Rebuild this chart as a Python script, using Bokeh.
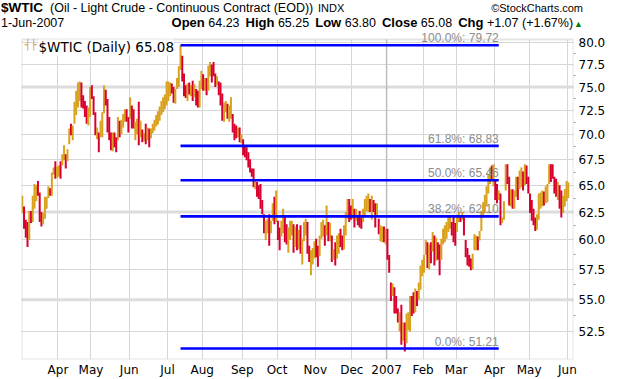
import numpy as np
import pandas as pd
from bokeh.plotting import figure
from bokeh.layouts import column
from bokeh.models import (ColumnDataSource, Range1d, FixedTicker, Label, Span,
                          PrintfTickFormatter, BoxAnnotation, Div)
from bokeh.embed import file_html
from bokeh.resources import INLINE
from bokeh.core.properties import value

# ---------------- data ----------------
symbol = "$WTIC"
title_desc = "(Oil - Light Crude - Continuous Contract (EOD))"
exchange = "INDX"
credit = "©StockCharts.com"
last_date_label = "1-Jun-2007"
quote_labels = ["Open", "High", "Low", "Close", "Chg"]
quote_values = ["64.23", "65.25", "63.80", "65.08", "+1.07"]
chg_pct = "(+1.67%)"
legend_text = "$WTIC (Daily) 65.08"

first_day = "2006-03-03"
last_day = "2007-06-01"
holidays = ["2006-04-14", "2006-05-29", "2006-07-04", "2006-09-04", "2006-11-23",
            "2006-12-25", "2007-01-01", "2007-01-15", "2007-02-19", "2007-04-06",
            "2007-05-28"]

highs = [
    64.0, 63.0, 61.8, 61.6, 62.6, 62.6, 64.0, 65.1, 65.0, 65.4, 64.3, 62.5, 62.4, 63.9, 63.9, 64.9, 64.7, 66.2, 66.7, 67.3, 66.8,
    66.9, 67.3, 68.0, 68.9, 68.0, 68.5, 70.6, 71.1, 70.9, 73.4, 74.6, 75.5, 75.6, 75.5, 74.1, 73.5, 73.0, 72.8, 75.0,
    75.2, 74.0, 72.3, 70.7, 70.2, 71.4, 72.3, 75.2, 74.7, 73.7, 71.8, 70.2, 70.2, 70.2, 69.7, 71.8, 71.4, 71.5, 72.1, 72.6, 72.6, 71.8,
    73.9, 73.0, 72.6, 71.3, 71.6, 73.4, 71.4, 70.5, 70.1, 71.1, 70.7, 70.6, 70.6, 71.1, 71.5, 72.0, 72.4, 72.9, 73.5, 73.9, 74.2, 75.6,
    75.6, 75.5, 75.4, 75.0, 74.8, 76.0, 77.3, 79.72, 78.5, 76.5, 75.2, 75.4, 75.5, 75.2, 75.7, 75.3, 74.8, 74.6, 75.7, 76.8,
    76.4, 76.0, 76.0, 77.4, 77.8, 77.5, 77.8, 76.5, 76.2, 75.6, 75.5, 74.3, 73.3, 73.5, 73.2, 73.0, 73.9, 72.1, 71.1, 70.9, 70.7, 70.7, 70.0,
    69.5, 68.9, 68.7, 68.2, 67.5, 66.6, 66.6, 65.4, 65.3, 65.0, 65.1, 63.6, 62.3, 61.7, 61.9, 62.3, 61.7, 63.3, 63.9, 64.5,
    61.7, 61.1, 61.7, 62.8, 62.2, 61.4, 61.1, 61.7, 61.7, 61.4, 61.2, 61.4, 60.9, 61.3, 60.1, 61.6, 61.9, 61.6, 59.5, 59.1, 59.3, 59.9,
    60.1, 59.5, 60.4, 61.6, 61.8, 61.3, 63.1, 61.6, 61.5, 60.4, 59.2, 59.8, 60.4, 60.6, 61.0, 60.4, 61.3, 62.5, 63.7, 63.7, 63.1,
    63.7, 62.8, 62.8, 62.2, 62.6, 62.0, 62.8, 63.7, 64.0, 64.2, 63.7, 64.0, 63.6, 63.3, 63.3, 61.9, 61.3, 61.2, 61.2, 61.0,
    61.0, 58.7, 56.4, 56.3, 56.0, 55.3, 54.3, 54.0, 54.6, 53.2, 53.2, 53.9, 54.0, 55.3, 55.3, 55.6, 55.9, 55.7, 56.4, 57.8, 58.3,
    58.7, 60.0, 59.8, 59.6, 59.8, 60.7, 60.4, 60.2, 59.8, 59.6, 60.1, 61.0, 61.3, 61.6, 62.2, 62.1, 61.6, 62.2, 61.5,
    62.2, 62.5, 62.2, 62.5, 62.0, 60.0, 59.3, 58.7, 58.4, 58.8, 60.5, 60.4, 60.3, 60.8, 62.6, 63.4, 64.1, 64.9, 66.1, 66.7, 66.9, 67.0,
    65.5, 65.1, 64.5, 64.2, 62.0, 63.5, 67.0, 67.0, 65.8, 64.6, 64.6, 64.5, 65.8, 65.8, 66.4, 66.7, 66.3, 67.0, 66.9, 65.8,
    64.2, 63.6, 62.8, 62.0, 62.3, 64.2, 64.3, 64.5, 64.4, 64.9, 65.1, 67.0, 67.0, 67.0, 65.8, 65.6, 65.3, 65.0, 64.5, 64.0, 64.6, 65.4,
    65.25,
]
lows = [
    62.4, 61.0, 60.2, 59.4, 60.0, 61.5, 61.6, 62.8, 63.5, 64.0, 61.6, 61.2, 61.4, 61.9, 62.8, 63.8, 64.0, 64.0, 66.0, 65.6, 65.7,
    65.8, 65.6, 66.9, 67.4, 66.6, 67.3, 69.0, 69.9, 69.4, 71.1, 72.0, 72.8, 73.5, 72.8, 72.7, 71.8, 71.1, 70.9, 71.8,
    73.7, 72.0, 69.9, 69.5, 68.2, 69.7, 69.7, 72.2, 73.0, 70.2, 69.4, 68.4, 68.3, 68.7, 68.2, 69.4, 69.7, 70.0, 70.7, 71.3, 71.3, 70.2,
    71.6, 70.6, 70.6, 69.4, 70.0, 68.9, 69.7, 69.2, 69.3, 69.0, 69.4, 68.7, 69.6, 70.1, 70.4, 70.8, 71.0, 71.4, 72.0, 72.3, 72.6, 73.0,
    73.5, 74.0, 74.3, 73.3, 73.2, 74.8, 75.0, 76.9, 75.6, 74.0, 73.8, 73.5, 74.2, 74.0, 73.5, 73.9, 73.0, 72.8, 72.8, 74.8,
    74.6, 74.6, 74.1, 74.6, 76.2, 75.5, 76.2, 75.0, 75.2, 74.1, 73.0, 71.4, 71.3, 72.3, 71.6, 71.3, 71.6, 70.2, 69.4, 69.6, 69.7, 69.2, 69.1,
    67.9, 67.7, 67.4, 66.7, 66.2, 65.8, 64.8, 64.6, 63.9, 63.7, 62.8, 62.3, 60.6, 60.0, 60.6, 59.5, 60.6, 61.7, 61.4, 61.6,
    60.0, 59.1, 60.3, 60.6, 59.8, 59.6, 58.9, 60.0, 60.4, 58.9, 59.4, 59.1, 59.2, 58.8, 57.9, 59.9, 60.4, 58.8, 58.1, 57.0, 57.9, 58.4,
    58.5, 57.7, 58.6, 60.1, 60.3, 59.5, 60.4, 59.9, 59.9, 58.1, 58.3, 57.8, 58.4, 58.8, 59.4, 59.1, 59.2, 60.4, 61.9, 61.6, 61.8,
    61.9, 61.1, 61.7, 61.3, 61.1, 61.0, 61.6, 62.2, 62.6, 62.5, 62.5, 61.8, 62.5, 61.1, 62.2, 60.5, 59.9, 59.8, 59.8, 59.6,
    58.3, 57.2, 54.9, 55.3, 53.9, 53.9, 53.2, 52.5, 51.5, 51.8, 51.0, 51.6, 52.6, 52.5, 53.7, 53.9, 54.0, 54.5, 55.0, 55.8, 56.9,
    57.2, 58.7, 57.6, 57.5, 58.0, 59.0, 57.8, 58.2, 58.3, 57.0, 58.3, 59.6, 59.8, 60.1, 60.7, 61.0, 60.4, 59.8, 59.5,
    60.7, 61.6, 61.6, 61.8, 60.4, 58.5, 57.8, 57.7, 57.4, 57.5, 59.1, 59.1, 59.1, 59.95, 60.8, 62.0, 62.4, 63.0, 64.2, 65.1, 65.4, 64.9,
    63.6, 63.3, 63.6, 61.3, 61.5, 61.8, 64.5, 65.1, 63.1, 63.0, 62.8, 62.8, 63.9, 63.6, 64.6, 64.8, 64.5, 65.0, 65.1, 64.2,
    62.4, 61.7, 61.3, 60.8, 60.9, 61.8, 62.8, 63.0, 63.1, 63.3, 63.4, 65.1, 65.3, 65.6, 64.2, 63.9, 63.6, 62.8, 62.0, 62.4, 63.0, 63.5,
    63.80,
]
closes = [
    62.7, 61.3, 60.5, 60.0, 62.3, 61.8, 63.8, 64.6, 64.8, 64.2, 61.9, 61.5, 62.1, 63.6, 63.7, 64.6, 64.2, 66.0, 66.5, 65.8, 66.6,
    66.7, 65.9, 67.7, 68.7, 67.0, 68.3, 70.4, 70.0, 70.8, 73.1, 74.3, 75.2, 75.4, 73.1, 72.9, 72.0, 71.3, 72.5, 74.6,
    74.0, 72.3, 70.2, 70.5, 68.6, 71.1, 72.0, 74.9, 73.3, 70.5, 69.7, 68.7, 70.0, 69.2, 68.6, 71.5, 70.0, 71.2, 71.9, 72.4, 72.3, 70.5,
    73.5, 70.9, 70.8, 71.1, 71.4, 69.6, 71.1, 69.8, 70.0, 69.3, 70.5, 69.0, 70.4, 70.9, 71.3, 71.8, 72.2, 72.7, 73.3, 73.7, 74.0, 75.2,
    75.3, 75.4, 74.6, 73.6, 74.5, 75.8, 77.0, 79.2, 76.0, 74.3, 74.1, 75.0, 74.5, 74.9, 73.9, 75.1, 73.4, 73.0, 75.3, 76.5,
    75.0, 75.6, 74.4, 77.1, 77.4, 77.0, 76.5, 75.3, 75.9, 74.4, 73.3, 71.8, 72.9, 73.3, 72.0, 72.8, 73.6, 70.5, 69.8, 69.7, 70.4, 69.5, 69.8,
    68.2, 67.9, 67.6, 67.0, 66.4, 66.0, 65.0, 65.2, 64.1, 64.0, 63.1, 62.5, 60.9, 61.4, 61.7, 60.0, 61.5, 63.0, 61.8, 62.0,
    60.3, 59.4, 61.4, 62.3, 60.1, 59.8, 60.6, 61.2, 61.4, 59.3, 60.8, 59.4, 60.6, 59.1, 59.8, 61.2, 61.7, 59.2, 58.4, 58.8, 59.0, 59.6,
    58.8, 58.0, 60.1, 61.3, 61.5, 59.8, 61.8, 60.2, 61.2, 58.4, 58.9, 58.1, 59.9, 60.2, 59.6, 59.3, 61.0, 62.2, 63.4, 62.0, 61.9,
    63.5, 61.4, 62.1, 61.6, 61.4, 61.2, 62.6, 63.4, 63.8, 64.0, 62.8, 63.6, 63.2, 61.5, 62.4, 60.8, 61.0, 61.1, 60.2, 60.7,
    58.6, 57.5, 55.2, 56.0, 54.2, 54.1, 53.4, 53.8, 52.0, 52.9, 51.2, 53.6, 53.7, 55.0, 54.6, 54.2, 55.7, 54.8, 56.2, 57.6, 58.1,
    58.4, 59.8, 58.0, 59.2, 58.3, 60.4, 58.2, 59.7, 58.6, 57.5, 59.8, 60.7, 61.1, 61.4, 61.9, 62.0, 61.0, 60.2, 59.8,
    61.9, 62.3, 61.8, 62.2, 60.7, 58.8, 58.1, 57.9, 57.6, 58.6, 60.2, 60.3, 59.4, 60.6, 62.3, 63.2, 63.8, 64.6, 65.9, 66.4, 65.6, 65.9,
    64.0, 63.7, 64.2, 61.6, 61.9, 63.3, 66.7, 65.4, 63.4, 64.3, 63.1, 64.2, 65.5, 64.0, 66.1, 66.4, 64.9, 66.7, 66.5, 64.5,
    62.8, 62.0, 61.6, 61.2, 61.6, 63.9, 64.1, 64.3, 63.5, 64.7, 64.9, 66.7, 66.2, 66.0, 64.5, 64.2, 65.0, 63.2, 62.9, 63.15, 63.49, 64.01,
    65.08,
]

fib_high = 79.72
fib_low = 51.21
fib_ratios = [1.0, 0.618, 0.5, 0.382, 0.0]
fib_end_day = "2007-04-04"

y_ticks = [52.5, 55.0, 57.5, 60.0, 62.5, 65.0, 67.5, 70.0, 72.5, 75.0, 77.5, 80.0]
y_heavy_grid = [55.0, 62.5, 75.0]

# ---------------- derived ----------------
dates = pd.bdate_range(first_day, last_day)
dates = dates[~dates.isin(pd.to_datetime(holidays))]
n = min(len(dates), len(closes), len(highs), len(lows))
dates = dates[:n]
xs = list(range(n))

UP = "#D9A21E"
DOWN = "#D8002E"
colors = [UP if (i == 0 or closes[i] >= closes[i - 1]) else DOWN for i in range(n)]
src = ColumnDataSource(dict(x=xs, high=highs[:n], low=lows[:n], color=colors))

month_first = [i for i in range(1, n) if dates[i].month != dates[i - 1].month]
tick_pos = [i - 0.5 for i in month_first]
tick_lab = ["2007" if dates[i].month == 1 else dates[i].strftime("%b") for i in month_first]

# ---------------- geometry ----------------
HEADER_H = 30
FRAME_W, FRAME_H = 552, 329
B_LEFT, B_RIGHT, B_TOP, B_BOTTOM = 21, 47, 0, 20
PLOT_TOP = 80.39          # visible top edge of the chart box
Y_MIN, Y_MAX = 50.40, 81.45

p = figure(frame_width=FRAME_W, frame_height=FRAME_H,
           min_border_left=B_LEFT, min_border_right=B_RIGHT,
           min_border_top=B_TOP, min_border_bottom=B_BOTTOM,
           x_range=Range1d(-0.46, 317.0), y_range=Range1d(Y_MIN, Y_MAX),
           y_axis_type="log", y_axis_location="right",
           output_backend="svg", toolbar_location=None, title=None)
p.background_fill_color = "white"
p.border_fill_color = "white"
p.outline_line_color = None

# x axis
p.xaxis.ticker = FixedTicker(ticks=tick_pos)
p.xaxis.major_label_overrides = {t: lab for t, lab in zip(tick_pos, tick_lab)}
p.xaxis.major_tick_line_color = None
p.xaxis.major_tick_out = 0
p.xaxis.major_tick_in = 0
p.xaxis.minor_tick_line_color = None
p.xaxis.minor_tick_out = 0
p.xaxis.axis_line_color = None
p.xaxis.major_label_standoff = 3
p.xaxis.major_label_text_font = "DejaVu Sans"
p.xaxis.major_label_text_font_size = "12px"
p.xaxis.major_label_text_color = "black"
p.xgrid.grid_line_color = "#d6d6d6"
p.xgrid.grid_line_width = 1

# y axis
y_minor = [(a + b) / 2 for a, b in zip(y_ticks[:-1], y_ticks[1:])]
p.yaxis.ticker = FixedTicker(ticks=y_ticks, minor_ticks=y_minor)
p.yaxis.formatter = PrintfTickFormatter(format="%.1f")
p.yaxis.axis_line_color = None
p.yaxis.major_tick_line_color = None
p.yaxis.major_tick_out = 0
p.yaxis.major_tick_in = 0
p.yaxis.minor_tick_line_color = "#9a9a9a"
p.yaxis.minor_tick_out = 2
p.yaxis.minor_tick_in = 0
p.yaxis.major_label_standoff = 3
p.yaxis.major_label_text_font = "DejaVu Sans"
p.yaxis.major_label_text_font_size = "12px"
p.yaxis.major_label_text_color = "black"
p.ygrid.ticker = FixedTicker(ticks=y_ticks)
p.ygrid.grid_line_color = "#d6d6d6"
p.ygrid.grid_line_width = 1

for v in y_heavy_grid:
    p.add_layout(Span(location=v, dimension="width", line_color="#dcdcdc",
                      line_width=3, level="underlay"))
for t, lab in zip(tick_pos, tick_lab):
    if lab == "2007":
        p.add_layout(Span(location=t, dimension="height", line_color="#bcbcbc",
                          line_width=1.5, level="underlay"))

# white strip above the chart box (room for the 100% label), then the box border
p.add_layout(BoxAnnotation(bottom=PLOT_TOP, fill_color="white", fill_alpha=1.0,
                           line_color=None, level="underlay"))
p.add_layout(BoxAnnotation(top=PLOT_TOP, fill_alpha=0.0, line_color="#a6a6a6",
                           line_width=2, level="annotation"))

# price bars
p.segment(x0="x", y0="low", x1="x", y1="high", line_color="color",
          line_width=2, source=src)

# fibonacci retracement
hi_idx = int(np.argmax(highs[:n]))
end_idx = int(dates.get_loc(pd.Timestamp(fib_end_day)))
lo_c, hi_c = round(fib_low * 100), round(fib_high * 100)
levels_c = [round(lo_c + r * (hi_c - lo_c)) for r in fib_ratios]
levels = [c / 100 for c in levels_c]
fib_src = ColumnDataSource(dict(
    x0=[hi_idx] * len(levels), x1=[end_idx] * len(levels), y=levels,
    label=[f"{r * 100:.1f}%: {lv:.2f}" for r, lv in zip(fib_ratios, levels)]))
p.segment(x0="x0", y0="y", x1="x1", y1="y", line_color="#0000ff",
          line_width=2.6, source=fib_src)
p.text(x="x1", y="y", text="label", source=fib_src, text_align="right",
       text_baseline="bottom", text_font=value("Liberation Sans"),
       text_font_size="12px", text_color="#8c8c8c")

# in-chart legend
p.add_layout(Label(x=17, y=PLOT_TOP, x_units="screen", y_units="data", text=legend_text,
                   text_font="DejaVu Sans", text_font_size="13.5px", text_color="black",
                   text_baseline="top", background_fill_color="white"))
p.add_layout(Label(x=3, y=PLOT_TOP, x_units="screen", y_units="data", text="┤├",
                   text_font="DejaVu Sans", text_font_size="10px", text_font_style="bold",
                   text_color=UP, text_baseline="top"))

# ---------------- header ----------------
groups = "".join(
    f'<span style="margin-left:{0 if i == 0 else 6}px;"><b style="font-size:13px;">{lab}</b>'
    f'&nbsp;{val}</span>'
    for i, (lab, val) in enumerate(zip(quote_labels, quote_values)))
quote_html = (groups + f'&nbsp;{chg_pct}'
              '<span style="color:#008000;font-size:9px;margin-left:1px;">▲</span>')
header_html = f'''
<div style="position:relative;width:620px;height:{HEADER_H}px;color:#000;
 font-family:'Liberation Sans',Arial,sans-serif;white-space:nowrap;">
 <span style="position:absolute;left:1px;top:1.05px;font-size:13.5px;line-height:13.5px;font-weight:bold;">{symbol}</span>
 <span style="position:absolute;left:50px;top:1.75px;font-size:12.5px;line-height:12.5px;">{title_desc}</span>
 <span style="position:absolute;left:318px;top:3px;font-size:11px;line-height:11px;">{exchange}</span>
 <span style="position:absolute;right:37px;top:3px;font-size:11px;line-height:11px;">{credit}</span>
 <span style="position:absolute;left:1px;top:16.75px;font-size:12.5px;line-height:12.5px;">{last_date_label}</span>
 <span style="position:absolute;right:37px;top:16px;font-size:12.5px;line-height:14px;">{quote_html}</span>
</div>'''
header = Div(text=header_html, width=620, height=HEADER_H, margin=(0, 0, 0, 0))

layout = column(header, p, spacing=0)
open("out.html", "w").write(file_html(layout, INLINE))
